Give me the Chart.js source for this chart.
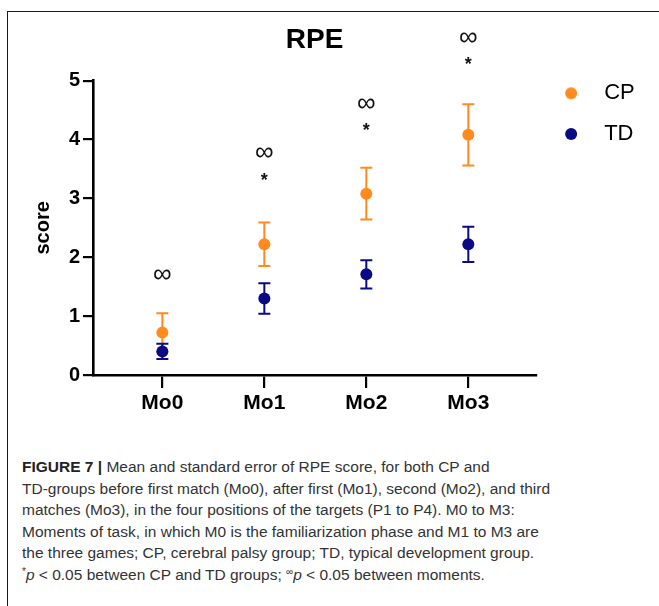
<!DOCTYPE html>
<html>
<head>
<meta charset="utf-8">
<script src="https://cdn.jsdelivr.net/npm/chart.js@4.4.1/dist/chart.umd.min.js"></script>
<style>
  html, body { margin: 0; padding: 0; background: #fff; }
  body { width: 659px; height: 606px; position: relative; overflow: hidden; font-family: "Liberation Sans", Arial, sans-serif; }
  #frame { position: absolute; left: 7px; top: 11px; width: 700px; height: 700px; border: 1.5px solid #1a1a1a; box-sizing: border-box; }
  #wrap { position: absolute; left: 0; top: 0; width: 659px; height: 420px; }
  #caption { position: absolute; left: 22px; top: 456px; width: 630px; font-size: 15.5px; line-height: 21.6px; color: #333; white-space: nowrap; }
  #caption b { color: #222; }
  sup { font-size: 10px; line-height: 0; vertical-align: 5px; }
</style>
</head>
<body>
<div id="frame"></div>
<div id="wrap"><canvas id="c" width="659" height="420"></canvas></div>
<div id="caption">
<b>FIGURE 7 |</b> Mean and standard error of RPE score, for both CP and<br>
TD-groups before first match (Mo0), after first (Mo1), second (Mo2), and third<br>
matches (Mo3), in the four positions of the targets (P1 to P4). M0 to M3:<br>
Moments of task, in which M0 is the familiarization phase and M1 to M3 are<br>
the three games; CP, cerebral palsy group; TD, typical development group.<br>
<sup>*</sup><i>p</i> &lt; 0.05 between CP and TD groups; <sup>∞</sup><i>p</i> &lt; 0.05 between moments.
</div>
<script>
const categories = ['Mo0', 'Mo1', 'Mo2', 'Mo3'];
const cpMean = [0.72, 2.22, 3.08, 4.08];
const cpSE   = [0.33, 0.37, 0.44, 0.52];
const tdMean = [0.40, 1.30, 1.71, 2.22];
const tdSE   = [0.13, 0.26, 0.24, 0.30];
const infMarkY  = [1.70, 3.78, 4.60, 5.73];
const starMarkY = [null, 3.34, 4.19, 5.31];
const yTicks = [0, 1, 2, 3, 4, 5];

const CP_COLOR = '#ff8a1d';
const TD_COLOR = '#0a0a84';
const FONT = '"Liberation Sans", Arial, sans-serif';

// legend marker image: a dot of radius 6, offset slightly left inside its box
function legendDot(color) {
  const c = document.createElement('canvas');
  c.width = 20; c.height = 14;
  const g = c.getContext('2d');
  g.fillStyle = color;
  g.beginPath();
  g.arc(7.15, 7, 6, 0, Math.PI * 2);
  g.fill();
  return c;
}

const errorBars = {
  id: 'errorBars',
  beforeDatasetsDraw(chart) {
    const {ctx, scales: {x, y}} = chart;
    ctx.save();
    chart.data.datasets.forEach(ds => {
      ctx.strokeStyle = ds.borderColor;
      ctx.lineWidth = 2;
      ds.data.forEach((p, i) => {
        const px = x.getPixelForValue(p.x);
        const top = y.getPixelForValue(p.y + ds.se[i]);
        const bot = y.getPixelForValue(p.y - ds.se[i]);
        ctx.beginPath();
        ctx.moveTo(px, top); ctx.lineTo(px, bot);
        ctx.moveTo(px - 6, top); ctx.lineTo(px + 6, top);
        ctx.moveTo(px - 6, bot); ctx.lineTo(px + 6, bot);
        ctx.stroke();
      });
    });
    ctx.restore();
  }
};

const marks = {
  id: 'marks',
  afterDatasetsDraw(chart) {
    const {ctx, scales: {x, y}} = chart;
    ctx.save();
    ctx.fillStyle = '#111';
    ctx.textAlign = 'center';
    ctx.textBaseline = 'middle';
    categories.forEach((c, i) => {
      const px = x.getPixelForValue(i);
      if (infMarkY[i] != null) {
        ctx.font = '26px ' + FONT;
        ctx.fillText('∞', px, y.getPixelForValue(infMarkY[i]));
      }
      if (starMarkY[i] != null) {
        ctx.font = 'bold 18px ' + FONT;
        ctx.fillText('*', px, y.getPixelForValue(starMarkY[i]) + 3);
      }
    });
    ctx.restore();
  }
};

const toPoints = arr => arr.map((v, i) => ({x: i, y: v}));

new Chart(document.getElementById('c'), {
  type: 'scatter',
  data: {
    datasets: [
      { label: 'CP', data: toPoints(cpMean), se: cpSE, backgroundColor: CP_COLOR, borderColor: CP_COLOR, pointRadius: 6, pointHoverRadius: 6, borderWidth: 0 },
      { label: 'TD', data: toPoints(tdMean), se: tdSE, backgroundColor: TD_COLOR, borderColor: TD_COLOR, pointRadius: 6, pointHoverRadius: 6, borderWidth: 0 }
    ]
  },
  options: {
    responsive: false,
    animation: false,
    events: [],
    layout: { padding: { left: 0, right: 14.3, top: 0, bottom: 0 } },
    plugins: {
      title: {
        display: true, text: 'RPE', fullSize: false, color: '#000',
        font: { family: FONT, size: 28, weight: 'bold' },
        padding: { top: 23.2, bottom: 23.9 }
      },
      legend: {
        position: 'right', align: 'start',
        title: { display: true, text: ' ', font: { size: 10, lineHeight: 1 }, padding: { top: 53.6, bottom: 0 } },
        labels: {
          usePointStyle: true, pointStyleWidth: 38.3,
          boxHeight: 8.5, padding: 18.7, color: '#000',
          font: { family: FONT, size: 22 },
          generateLabels: chart => {
            const items = Chart.defaults.plugins.legend.labels.generateLabels(chart);
            return items.map(it => Object.assign(it, { pointStyle: legendDot(chart.data.datasets[it.datasetIndex].backgroundColor) }));
          }
        }
      },
      tooltip: { enabled: false }
    },
    scales: {
      x: {
        type: 'linear', min: -0.68, max: 3.665,
        afterBuildTicks: s => { s.ticks = categories.map((c, i) => ({value: i})); },
        afterFit: s => { s.height = 45; },
        ticks: {
          color: '#000', padding: 3,
          font: { family: FONT, size: 21, weight: 'bold' },
          callback: v => categories[v]
        },
        grid: { drawOnChartArea: false, drawTicks: true, tickLength: 13, tickColor: '#000', lineWidth: 2.2 },
        border: { display: true, color: '#000', width: 2.6 }
      },
      y: {
        min: 0, max: 5,
        afterBuildTicks: s => { s.ticks = yTicks.map(v => ({value: v})); },
        afterFit: s => { s.width = 93; },
        ticks: {
          color: '#000', padding: 3,
          font: { family: FONT, size: 20, weight: 'bold' }
        },
        title: {
          display: true, text: 'score', color: '#000',
          font: { family: FONT, size: 20, weight: 'bold' },
          padding: { top: 31, bottom: 0 }
        },
        grid: { drawOnChartArea: false, drawTicks: true, tickLength: 10, tickColor: '#000', lineWidth: 2.2 },
        border: { display: true, color: '#000', width: 2.6 }
      }
    }
  },
  plugins: [errorBars, marks]
});
</script>
</body>
</html>
